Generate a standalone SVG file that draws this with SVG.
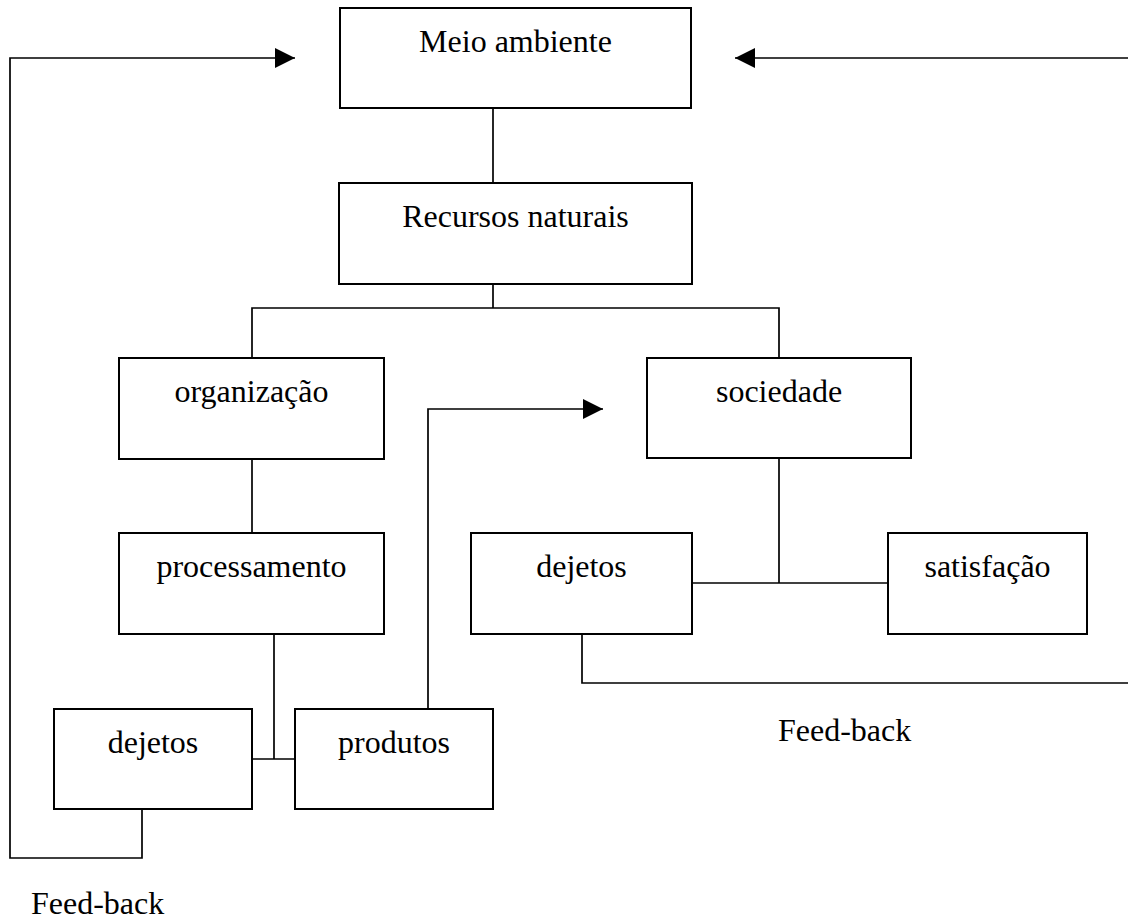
<svg xmlns="http://www.w3.org/2000/svg" width="1128" height="919" viewBox="0 0 1128 919">
<style>
.box{fill:#fff;stroke:#000;stroke-width:2}
.ln{fill:none;stroke:#000;stroke-width:1.7}
text{font-family:"Liberation Serif","Times New Roman",serif;font-size:32px;fill:#000}
.c{text-anchor:middle}
</style>
<defs>
<marker id="ah" markerUnits="userSpaceOnUse" markerWidth="21" markerHeight="21" refX="20" refY="10" orient="auto" viewBox="0 0 21 21">
<path d="M0,0 L20,10 L0,20 Z" fill="#000"/>
</marker>
</defs>
<g id="connectors">
<line class="ln" x1="493" y1="108" x2="493" y2="183"/>
<path class="ln" d="M493,284 V308"/>
<path class="ln" d="M252,358 V308 H779 V358"/>
<path class="ln" d="M252,459 V533"/>
<path class="ln" d="M779,458 V583"/>
<path class="ln" d="M692,583 H888"/>
<path class="ln" d="M582,634 V683 H1128"/>
<path class="ln" d="M274,634 V759"/>
<path class="ln" d="M252,759 H295"/>
<path class="ln" d="M428,709 V409 H603" marker-end="url(#ah)"/>
<path class="ln" d="M142,809 V858 H10 V58 H295" marker-end="url(#ah)"/>
<path class="ln" d="M1128,58 H735" marker-end="url(#ah)"/>
</g>
<g id="meio-ambiente"><rect class="box" x="340" y="8" width="351" height="100"/><text class="c" x="515.5" y="52">Meio ambiente</text></g>
<g id="recursos-naturais"><rect class="box" x="339" y="183" width="353" height="101"/><text class="c" x="515.5" y="227">Recursos naturais</text></g>
<g id="organizacao"><rect class="box" x="119" y="358" width="265" height="101"/><text class="c" x="251.5" y="402">organização</text></g>
<g id="sociedade"><rect class="box" x="647" y="358" width="264" height="100"/><text class="c" x="779" y="402">sociedade</text></g>
<g id="processamento"><rect class="box" x="119" y="533" width="265" height="101"/><text class="c" x="251.5" y="577">processamento</text></g>
<g id="dejetos-sociedade"><rect class="box" x="471" y="533" width="221" height="101"/><text class="c" x="581.5" y="577">dejetos</text></g>
<g id="satisfacao"><rect class="box" x="888" y="533" width="199" height="101"/><text class="c" x="987.5" y="577">satisfação</text></g>
<g id="dejetos-organizacao"><rect class="box" x="54" y="709" width="198" height="100"/><text class="c" x="153" y="753">dejetos</text></g>
<g id="produtos"><rect class="box" x="295" y="709" width="198" height="100"/><text class="c" x="394" y="753">produtos</text></g>
<g id="feedback-right"><text x="778" y="741">Feed-back</text></g>
<g id="feedback-left"><text x="31" y="914">Feed-back</text></g>
</svg>
